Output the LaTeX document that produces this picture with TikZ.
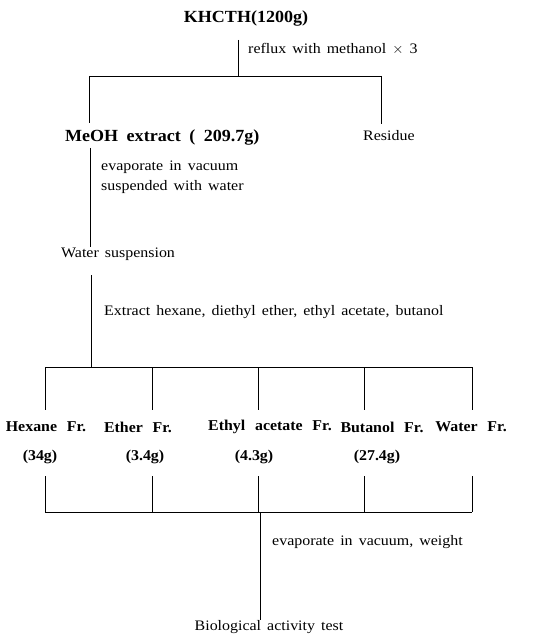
\documentclass[tikz,border=0pt]{standalone}
\usepackage{fontspec}
\setmainfont{Liberation Serif}
\newfontfamily\wideserif[FakeStretch=1.1]{Liberation Serif}
\newfontfamily\widebold[FakeStretch=1.06]{Liberation Serif Bold}
\newcommand\regfont{\wideserif\fontsize{14.5}{16}\selectfont\spaceskip=0.42em plus 0.1em\relax}
\newcommand\bigbold{\widebold\fontsize{17}{19}\selectfont\spaceskip=0.5em plus 0.1em\relax}
\newcommand\frbold{\widebold\fontsize{15}{17}\selectfont\spaceskip=0.65em plus 0.1em\relax}
\begin{document}
\begin{tikzpicture}[x=1pt,y=-1pt,
  ln/.style={line width=0.8pt,black},
  txt/.style={inner sep=0pt,font=\regfont},
  btxt/.style={inner sep=0pt,font=\bigbold},
  ftxt/.style={inner sep=0pt,font=\frbold}]
\useasboundingbox (0,0) rectangle (533,636);
% top
\node[btxt] (k) at (246,18) {KHCTH(1200g)};
\coordinate (k1) at (238,40);
\coordinate (kj) at (238,76);
\node[txt,anchor=west] (reflux) at (248,49) {reflux with methanol $\times$ 3};
\node[btxt,anchor=west] (meoh) at (65,137) {MeOH extract ( 209.7g)};
\node[txt,anchor=west] (res) at (363,136) {Residue};
\coordinate (mtop) at (89,123);
\coordinate (rtop) at (381,124);
\coordinate (lj) at (89,76);
\coordinate (rj) at (381,76);
\draw[ln] (k1) -- (kj);
\draw[ln] (lj) -- (rj);
\draw[ln] (lj) -- (mtop);
\draw[ln] (rj) -- (rtop);
% meoh to water suspension
\coordinate (m1) at (90,148);
\coordinate (m2) at (90,247);
\draw[ln] (m1) -- (m2);
\node[txt,anchor=west] (evap) at (101,167) {evaporate in vacuum};
\node[txt,anchor=west] (susp) at (101,187) {suspended with water};
\node[txt,anchor=west] (ws) at (61,254) {Water suspension};
% extraction
\coordinate (w1) at (91,275);
\coordinate (w2) at (91,367);
\draw[ln] (w1) -- (w2);
\node[txt,anchor=west] (ext) at (104,312) {Extract hexane, diethyl ether, ethyl acetate, butanol};
\coordinate (hL) at (45,367);
\coordinate (hR) at (472,367);
\draw[ln] (hL) -- (hR);
% fractions
\node[ftxt] (hex) at (46,427) {Hexane Fr.};
\node[ftxt] (eth) at (138,427) {Ether Fr.};
\node[ftxt] (ea) at (270,427) {Ethyl acetate Fr.};
\node[ftxt] (but) at (382,427) {Butanol Fr.};
\node[ftxt] (wat) at (471,427) {Water Fr.};
\node[ftxt] (hexg) at (40,457) {(34g)};
\node[ftxt] (ethg) at (145,457) {(3.4g)};
\node[ftxt] (eag) at (254,457) {(4.3g)};
\node[ftxt] (butg) at (377,457) {(27.4g)};
\foreach \n/\x in {a/45,b/152,c/258,d/364,e/472}{
  \coordinate (t\n) at (\x,367);
  \coordinate (u\n) at (\x,410);
  \coordinate (v\n) at (\x,476);
  \coordinate (w\n) at (\x,512);
  \draw[ln] (t\n) -- (u\n);
  \draw[ln] (v\n) -- (w\n);
}
\draw[ln] (wa) -- (we);
\coordinate (b0) at (260,512);
\coordinate (b1) at (260,620);
\draw[ln] (b0) -- (b1);
\node[txt,anchor=west] (evw) at (272,542) {evaporate in vacuum, weight};
\node[txt] (bio) at (269,627) {Biological activity test};
\end{tikzpicture}
\end{document}
